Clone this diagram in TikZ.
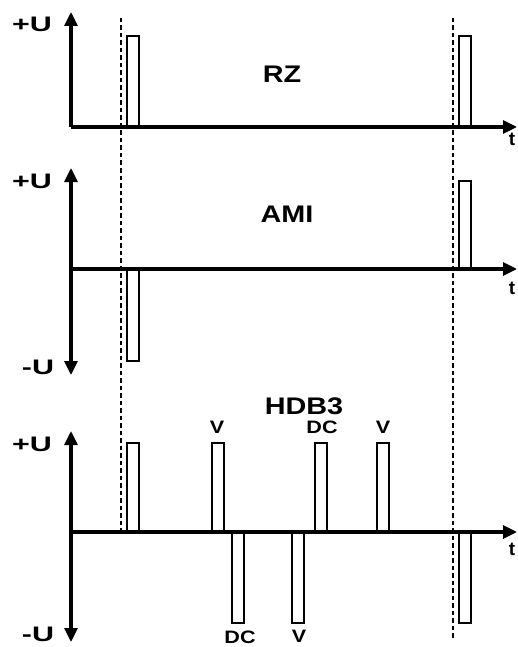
\documentclass[tikz,border=0pt]{standalone}
\usepackage{fontspec}
\setmainfont{Liberation Sans}
\newfontfamily\uwide[FakeStretch=1.45]{Liberation Sans}
\newfontfamily\codewide[FakeStretch=1.2]{Liberation Sans}
\newfontfamily\markwide[FakeStretch=1.2]{Liberation Sans}
\usetikzlibrary{arrows.meta,positioning}
\definecolor{sigInk}{HTML}{000000}

\tikzset{
  axis/.style={draw=sigInk,line width=3.2pt,-{Triangle[length=14pt,width=13pt]}},
  pulse/.style={draw=sigInk,line width=2.6pt,fill=white},
  guide/.style={draw=sigInk,line width=1.3pt,dash pattern=on 4.5pt off 3pt},
  ulabel/.style={font=\uwide\fontsize{21}{21}\selectfont\bfseries,inner sep=0pt},
  codelabel/.style={font=\codewide\fontsize{24}{24}\selectfont\bfseries,inner sep=0pt},
  marklabel/.style={font=\markwide\fontsize{18}{18}\selectfont\bfseries,inner sep=0pt},
  tlabel/.style={font=\fontsize{19}{19}\selectfont\bfseries,inner sep=0pt}
}

\begin{document}
\begin{tikzpicture}[x=1pt,y=-1pt]
  \useasboundingbox (0,0) rectangle (518,647);

  % timing guides
  \coordinate (gLtop) at (121,18);
  \coordinate (gLbot) at (121,532);
  \coordinate (gRtop) at (453,18);
  \coordinate (gRbot) at (453,640);
  \draw[guide] (gLtop) -- (gLbot);
  \draw[guide] (gRtop) -- (gRbot);

  % --- RZ ---
  \coordinate (rzO) at (71,127);
  \coordinate (rzUp) at (71,12);
  \coordinate (rzEnd) at (517,127);
  \draw[pulse] (127,127) rectangle (139,36);
  \draw[pulse] (459,127) rectangle (471,36);
  \draw[axis] (rzO) -- (rzUp);
  \draw[axis] (rzO) -- (rzEnd);
  \node[ulabel] (rzU) at (32,24) {+U};
  \node[tlabel] (rzT) at (512,139) {t};
  \node[codelabel] (rzName) at (282,74) {RZ};

  % --- AMI ---
  \coordinate (amiO) at (71,269);
  \coordinate (amiUp) at (71,168);
  \coordinate (amiDn) at (71,375);
  \coordinate (amiEnd) at (517,269);
  \draw[pulse] (127,269) rectangle (139,361);
  \draw[pulse] (459,269) rectangle (471,181);
  \draw[axis] (amiO) -- (amiUp);
  \draw[axis] (amiO) -- (amiDn);
  \draw[axis] (amiO) -- (amiEnd);
  \node[ulabel] (amiU) at (32,181) {+U};
  \node[ulabel] (amiL) at (38,367) {-U};
  \node[tlabel] (amiT) at (512,288) {t};
  \node[codelabel] (amiName) at (287,214) {AMI};

  % --- HDB3 ---
  \coordinate (hdbO) at (71,532);
  \coordinate (hdbUp) at (71,431);
  \coordinate (hdbDn) at (71,642);
  \coordinate (hdbEnd) at (517,532);
  \foreach \x/\y in {127/443, 212/443, 232/623, 292/623, 315/443, 377/443, 459/623}
    \draw[pulse] (\x,532) rectangle (\x+12,\y);
  \draw[axis] (hdbO) -- (hdbUp);
  \draw[axis] (hdbO) -- (hdbDn);
  \draw[axis] (hdbO) -- (hdbEnd);
  \node[ulabel] (hdbU) at (32,444) {+U};
  \node[ulabel] (hdbL) at (38,634) {-U};
  \node[tlabel] (hdbT) at (512,549) {t};
  \node[codelabel] (hdbName) at (304,406) {HDB3};
  \node[marklabel] (vA) at (217,427) {V};
  \node[marklabel] (dcA) at (240,637) {DC};
  \node[marklabel] (vB) at (299,636) {V};
  \node[marklabel] (dcB) at (322,427) {DC};
  \node[marklabel] (vC) at (383,427) {V};
\end{tikzpicture}
\end{document}
